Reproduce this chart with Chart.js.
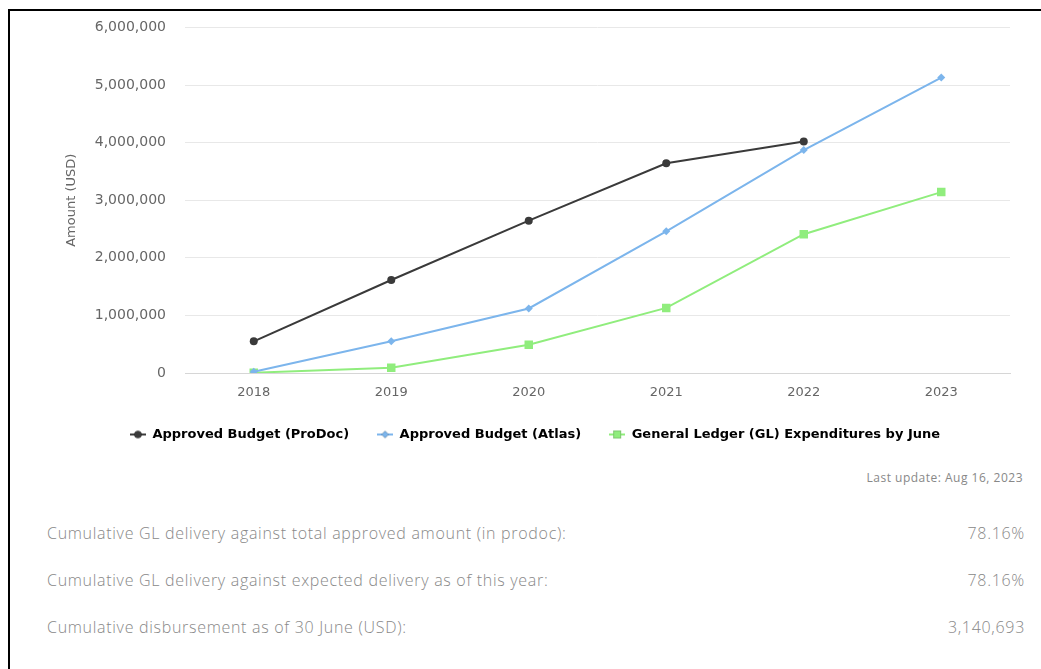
<!DOCTYPE html>
<html>
<head>
<meta charset="utf-8">
<script src="https://cdn.jsdelivr.net/npm/chart.js@4/dist/chart.umd.min.js"></script>
<style>
  html, body { margin: 0; padding: 0; background: #fff; }
  body { width: 1041px; height: 669px; position: relative; overflow: hidden; }
  .frame { position: absolute; left: 8px; top: 9px; right: -5px; bottom: -5px;
           border-top: 2px solid #000; border-left: 2px solid #000; }
  #chart-box { position: absolute; left: 10px; top: 0; width: 1031px; height: 454px; }
  .note { position: absolute; right: 18px; top: 469px; font: 12px "Open Sans", sans-serif;
          letter-spacing: 0.5px; color: #888; }
  .row { position: absolute; left: 47px; right: 16px; font: 300 16px "Open Sans", sans-serif;
         letter-spacing: 0.7px; color: #888; }
  .row span { position: absolute; right: 0; }
</style>
</head>
<body>
<div class="frame"></div>
<div id="chart-box"><canvas id="grafico"></canvas></div>
<div class="note">Last update: Aug 16, 2023</div>
<div class="row" style="top:522px">Cumulative GL delivery against total approved amount (in prodoc):<span>78.16%</span></div>
<div class="row" style="top:569px">Cumulative GL delivery against expected delivery as of this year:<span>78.16%</span></div>
<div class="row" style="top:616px">Cumulative disbursement as of 30 June (USD):<span>3,140,693</span></div>

<script>
// Datos
const anios = ['2018', '2019', '2020', '2021', '2022', '2023'];
const presupuestoProDoc = [550000, 1615000, 2645000, 3640000, 4020000, null];
const presupuestoAtlas = [20000, 550000, 1120000, 2460000, 3870000, 5130000];
const gastosGL = [5000, 90000, 490000, 1130000, 2410000, 3140693];
const ticksY = [0, 1000000, 2000000, 3000000, 4000000, 5000000, 6000000];

const colores = { prodoc: '#3a3a3a', atlas: '#7cb5ec', gl: '#90ed7d' };

// Icono de leyenda: línea con el marcador en el medio
function iconoLeyenda(color, estilo, radio) {
    const c = document.createElement('canvas');
    c.width = 16;
    c.height = 12;
    const ctx = c.getContext('2d');
    ctx.strokeStyle = color;
    ctx.lineWidth = 2;
    ctx.beginPath();
    ctx.moveTo(0, 6);
    ctx.lineTo(16, 6);
    ctx.stroke();
    Chart.helpers.drawPoint(ctx, { pointStyle: estilo, radius: radio, rotation: 0, borderWidth: 0 }, 8, 6);
    ctx.fillStyle = color;
    ctx.fill();
    return c;
}

function dataset(label, data, color, estilo, radio) {
    return {
        label: label,
        data: data,
        borderColor: color,
        backgroundColor: color,
        borderWidth: 2,
        pointStyle: estilo,
        pointRadius: radio,
        pointHoverRadius: radio,
        pointBorderWidth: 0,
        tension: 0,
        spanGaps: false
    };
}

const datasets = [
    dataset('Approved Budget (ProDoc)', presupuestoProDoc, colores.prodoc, 'circle', 4),
    dataset('Approved Budget (Atlas)', presupuestoAtlas, colores.atlas, 'rectRot', 4),
    dataset('General Ledger (GL) Expenditures by June', gastosGL, colores.gl, 'rect', 6)
];

const fuente = '"DejaVu Sans", Verdana, sans-serif';

new Chart(document.getElementById('grafico'), {
    type: 'line',
    data: { labels: anios, datasets: datasets },
    options: {
        responsive: true,
        maintainAspectRatio: false,
        animation: false,
        layout: { padding: { left: 50, right: 31, top: 8, bottom: 3 } },
        plugins: {
            tooltip: { enabled: false },
            legend: {
                position: 'bottom',
                labels: {
                    usePointStyle: true,
                    pointStyleWidth: 16,
                    boxHeight: 12,
                    padding: 28,
                    color: '#333',
                    font: { family: fuente, size: 13, weight: 'bold' },
                    generateLabels: (chart) => chart.data.datasets.map((ds, i) => ({
                        text: ds.label,
                        fillStyle: ds.borderColor,
                        strokeStyle: ds.borderColor,
                        lineWidth: 0,
                        pointStyle: iconoLeyenda(ds.borderColor, ds.pointStyle, ds.pointRadius * 0.9),
                        hidden: false,
                        datasetIndex: i
                    }))
                }
            }
        },
        scales: {
            x: {
                offset: true,
                grid: { display: false, drawTicks: false },
                border: { display: true, color: '#d6d6d6', width: 1 },
                ticks: { color: '#666', padding: 12, font: { family: fuente, size: 13 } },
                afterFit: (scale) => { scale.height = 27; }
            },
            y: {
                min: 0,
                max: 6000000,
                afterBuildTicks: (scale) => { scale.ticks = ticksY.map(v => ({ value: v })); },
                grid: { color: '#e8e8e8', drawTicks: false },
                border: { display: false },
                ticks: {
                    color: '#666',
                    padding: 19,
                    font: { family: fuente, size: 14 },
                    callback: (v) => Number(v).toLocaleString('en-US')
                },
                title: {
                    display: true,
                    text: 'Amount (USD)',
                    color: '#666',
                    padding: { top: 4, bottom: 0 },
                    font: { family: fuente, size: 13 }
                },
                afterFit: (scale) => { scale.width = 125; }
            }
        }
    }
});
</script>
</body>
</html>
